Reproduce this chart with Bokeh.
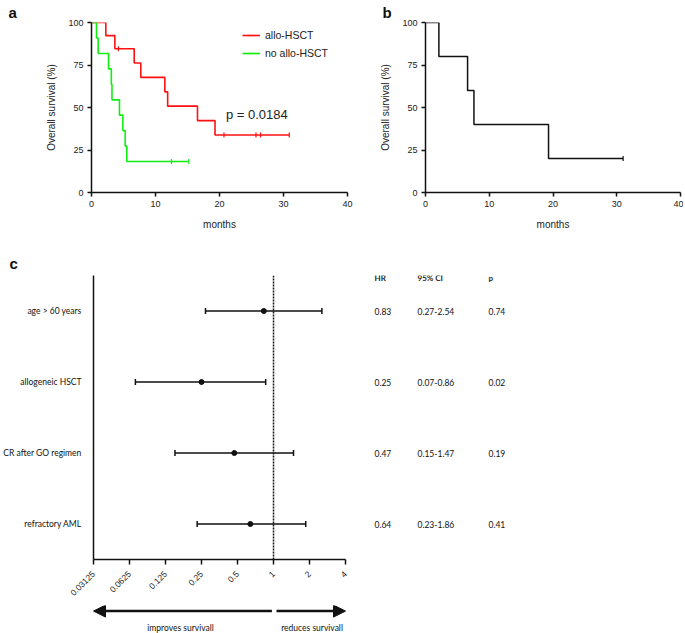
import math
from bokeh.plotting import figure
from bokeh.models import (Range1d, FixedTicker, Label, Span, Whisker, ColumnDataSource,
                          Arrow, NormalHead, TeeHead)
from bokeh.layouts import row, column
from bokeh.embed import file_html
from bokeh.resources import INLINE
from bokeh.core.properties import value

# ---------------- data ----------------
# panel a: Kaplan-Meier, allo-HSCT vs no allo-HSCT (months, % survival)
allo_t = [0, 2.24, 3.65, 6.67, 7.7, 11.46, 11.9, 16.56, 19.3, 30.9]
allo_s = [100, 92.3, 84.6, 76.2, 67.7, 59.2, 50.8, 42.3, 33.8, 33.8]
allo_cens_t = [4.2, 20.7, 25.7, 26.4, 30.9]
allo_cens_s = [84.6, 33.8, 33.8, 33.8, 33.8]

noallo_t = [0, 0.78, 1.04, 2.66, 3.1, 3.2, 4.37, 4.9, 5.26, 5.52, 15.2]
noallo_s = [100, 90.9, 81.8, 72.7, 63.6, 54.5, 45.5, 36.4, 27.3, 18.2, 18.2]
noallo_cens_t = [12.5, 15.2]
noallo_cens_s = [18.2, 18.2]

p_value_text = "p = 0.0184"

# panel b
b_t = [0, 2.1, 6.6, 7.6, 19.3, 31.0]
b_s = [100, 80, 60, 40, 20, 20]
b_cens_t = [31.0]
b_cens_s = [20]

month_ticks = [0, 10, 20, 30, 40]
surv_ticks = [0, 25, 50, 75, 100]

# panel c: forest plot
factors = ["age > 60 years", "allogeneic HSCT", "CR after GO regimen", "refractory AML"]
hr = [0.83, 0.25, 0.47, 0.64]
ci_lo = [0.27, 0.07, 0.15, 0.23]
ci_hi = [2.54, 0.86, 1.47, 1.86]
p_vals = ["0.74", "0.02", "0.19", "0.41"]
ref_hr = 1
hr_ticks = [0.03125, 0.0625, 0.125, 0.25, 0.5, 1, 2, 4]
hr_tick_labels = ["0.03125", "0.0625", "0.125", "0.25", "0.5", "1", "2", "4"]
table_header = ["HR", "95% CI", "p"]

ARIAL = "Liberation Sans"
CAL = "Lato"


def panel_title(p, letter, offset, standoff):
    p.title.text = letter
    p.title.align = "left"
    p.title.offset = offset
    p.title.standoff = standoff
    p.title.text_font = ARIAL
    p.title.text_font_size = "15px"
    p.title.text_font_style = "bold"
    p.title.text_color = "#111111"


def km_fig(left, right, fw):
    p = figure(frame_width=fw, frame_height=170,
               x_range=Range1d(0, 40), y_range=Range1d(0, 100),
               min_border_left=left, min_border_right=right,
               min_border_top=21, min_border_bottom=54,
               output_backend="svg", toolbar_location=None)
    p.grid.visible = False
    p.outline_line_color = None
    for ax in (p.xaxis[0], p.yaxis[0]):
        ax.axis_line_width = 1.5
        ax.axis_line_color = "#111111"
        ax.major_tick_line_width = 1.5
        ax.major_tick_line_color = "#111111"
        ax.major_tick_out = 4
        ax.major_tick_in = 0
        ax.minor_tick_line_color = None
        ax.major_label_text_font = ARIAL
        ax.major_label_text_font_size = "9px"
        ax.major_label_text_color = "#222222"
        ax.axis_label_text_font = ARIAL
        ax.axis_label_text_font_size = "10px"
        ax.axis_label_text_font_style = "normal"
        ax.axis_label_text_color = "#222222"
    p.xaxis.ticker = FixedTicker(ticks=month_ticks)
    p.yaxis.ticker = FixedTicker(ticks=surv_ticks)
    p.xaxis.axis_label = "months"
    p.yaxis.axis_label = "Overall survival (%)"
    p.xaxis.major_label_standoff = 4
    p.xaxis.axis_label_standoff = 9
    p.yaxis.major_label_standoff = 4
    p.yaxis.axis_label_standoff = 8
    return p


# ---------------- panel a ----------------
pa = km_fig(91, 8, 256)
pa.step(allo_t, allo_s, mode="after", line_color="#ff1010", line_width=1.6, legend_label="allo-HSCT")
pa.scatter(allo_cens_t, allo_cens_s, marker="dash", angle=math.pi / 2, size=5,
           line_color="#ff1010", line_width=1.2, legend_label="allo-HSCT")
pa.step(noallo_t, noallo_s, mode="after", line_color="#10ee10", line_width=1.6, legend_label="no allo-HSCT")
pa.scatter(noallo_cens_t, noallo_cens_s, marker="dash", angle=math.pi / 2, size=5,
           line_color="#10ee10", line_width=1.2, legend_label="no allo-HSCT")
lg = pa.legend[0]
lg.location = (151, 130)
lg.border_line_color = None
lg.background_fill_alpha = 0
lg.padding = 0
lg.margin = 0
lg.spacing = 0
lg.label_height = 18
lg.glyph_height = 18
lg.glyph_width = 18
lg.label_standoff = 5
lg.label_text_font = ARIAL
lg.label_text_font_size = "10.5px"
lg.label_text_color = "#222222"
pa.add_layout(Label(x=21, y=46, text=p_value_text, text_baseline="middle",
                    text_font=ARIAL, text_font_size="13px", text_color="#222222"))
panel_title(pa, "a", -83, 3)

# ---------------- panel b ----------------
pb = km_fig(70, 3, 255)
pb.step(b_t, b_s, mode="after", line_color="#111111", line_width=1.5)
pb.scatter(b_cens_t, b_cens_s, marker="dash", angle=math.pi / 2, size=5,
           line_color="#111111", line_width=1.2)
panel_title(pb, "b", -43, 3)

# ---------------- panel c: forest ----------------
ypos = list(range(len(factors), 0, -1))
src = ColumnDataSource(dict(y=ypos, hr=hr, lo=ci_lo, hi=ci_hi))
hr_range = Range1d(hr_ticks[0], hr_ticks[-1])

fp = figure(x_axis_type="log", x_range=hr_range,
            y_range=Range1d(0.5, len(factors) + 0.5),
            frame_width=252, frame_height=284,
            min_border_left=92, min_border_right=8, min_border_top=29, min_border_bottom=46,
            output_backend="svg", toolbar_location=None)
fp.grid.visible = False
fp.outline_line_color = None
for ax in (fp.xaxis[0], fp.yaxis[0]):
    ax.axis_line_width = 1.5
    ax.axis_line_color = "#111111"
    ax.major_tick_line_width = 1.5
    ax.major_tick_line_color = "#111111"
    ax.minor_tick_line_color = None
    ax.major_tick_in = 0
fp.xaxis.ticker = FixedTicker(ticks=hr_ticks)
fp.xaxis.major_label_overrides = {t: l for t, l in zip(hr_ticks, hr_tick_labels)}
fp.xaxis.major_label_orientation = math.pi / 4
fp.xaxis.major_tick_out = 5
fp.xaxis.major_label_standoff = 8
fp.xaxis.major_label_text_font = ARIAL
fp.xaxis.major_label_text_font_size = "8.5px"
fp.xaxis.major_label_text_color = "#222222"
fp.yaxis.ticker = FixedTicker(ticks=ypos)
fp.yaxis.major_label_overrides = {y: f for y, f in zip(ypos, factors)}
fp.yaxis.major_tick_out = 0
fp.yaxis.major_label_standoff = 12
fp.yaxis.major_label_text_font = CAL
fp.yaxis.major_label_text_font_size = "8.5px"
fp.yaxis.major_label_text_color = "#111111"
panel_title(fp, "c", -84, 7)

fp.add_layout(Span(location=ref_hr, dimension="height", line_color="#111111",
                   line_width=1.5, line_dash="2 1"))
fp.add_layout(Whisker(source=src, base="y", lower="lo", upper="hi", dimension="width",
                      line_color="#111111", line_width=1.5,
                      lower_head=TeeHead(size=6, line_width=1.5, line_color="#111111"),
                      upper_head=TeeHead(size=6, line_width=1.5, line_color="#111111")))
fp.scatter("hr", "y", source=src, size=5, color="#111111")

# arrows strip under the forest plot (same horizontal scale as the forest plot)
fa = figure(x_axis_type="log", x_range=hr_range,
            y_range=Range1d(0, 1), frame_width=252, frame_height=28,
            min_border_left=92, min_border_right=8, min_border_top=0, min_border_bottom=0,
            x_axis_location=None, y_axis_location=None,
            output_backend="svg", toolbar_location=None)
fa.grid.visible = False
fa.outline_line_color = None
fa.add_layout(Arrow(x_start=0.97, y_start=0.8, x_end=hr_ticks[0], y_end=0.8, line_width=2.5,
                    line_color="#111111",
                    end=NormalHead(size=12, fill_color="#111111", line_color="#111111")))
fa.add_layout(Arrow(x_start=1.06, y_start=0.8, x_end=hr_ticks[-1], y_end=0.8, line_width=2.5,
                    line_color="#111111",
                    end=NormalHead(size=12, fill_color="#111111", line_color="#111111")))
fa.add_layout(Label(x=0.167, y=0.2, text="improves survivall", text_align="center",
                    text_baseline="middle", text_font=CAL, text_font_size="8.5px",
                    text_color="#111111"))
fa.add_layout(Label(x=2.1, y=0.2, text="reduces survivall", text_align="center",
                    text_baseline="middle", text_font=CAL, text_font_size="8.5px",
                    text_color="#111111"))

# table to the right
ft = figure(x_range=Range1d(0, 160), y_range=fp.y_range, frame_width=160, frame_height=284,
            min_border_left=0, min_border_right=0, min_border_top=29, min_border_bottom=60,
            x_axis_location=None, y_axis_location=None,
            output_backend="svg", toolbar_location=None)
ft.grid.visible = False
ft.outline_line_color = None
col_x = [21, 64, 135]
hr_txt = [f"{v:.2f}" for v in hr]
ci_txt = [f"{a:.2f}-{b:.2f}" for a, b in zip(ci_lo, ci_hi)]
for cx, texts in zip(col_x, (hr_txt, ci_txt, p_vals)):
    ft.text(x=[cx] * len(texts), y=ypos, text=texts, text_baseline="middle",
            text_font=value(CAL), text_font_size="8.5px", text_color="#111111")
ft.text(x=col_x, y=[len(factors) + 0.46] * 3, text=table_header, text_baseline="middle",
        text_font=value(CAL), text_font_size="8px", text_font_style="bold", text_color="#222222")

layout = column(row(pa, pb), row(column(fp, fa), ft))
open("out.html", "w").write(file_html(layout, INLINE))
